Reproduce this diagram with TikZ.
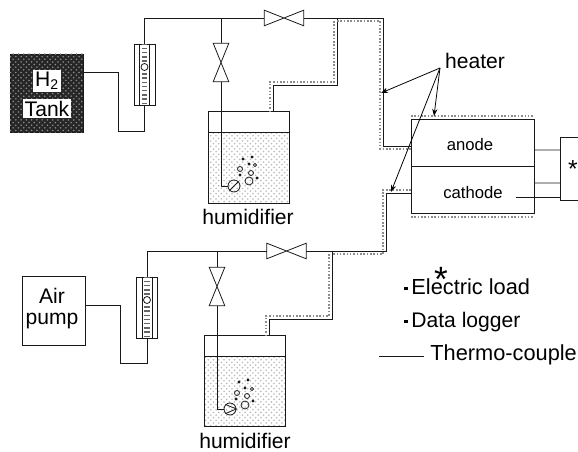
\documentclass[tikz,border=0pt]{standalone}
\usepackage{fontspec}
\setmainfont{Liberation Sans}
\usetikzlibrary{arrows.meta,patterns}
\tikzset{
  pipe/.style={line width=0.45pt,black!90},
  heat/.style={line width=0.9pt,black!45,densely dotted},
  box/.style={draw=black!90,line width=0.45pt,inner sep=0pt},
  lbl/.style={font=\fontsize{12}{14}\selectfont,inner sep=0pt,align=center},
  slbl/.style={font=\fontsize{9.5}{11}\selectfont,inner sep=0pt},
  biglbl/.style={font=\fontsize{20}{20}\selectfont,inner sep=0pt},
  hvalve/.style={inner sep=0pt,minimum width=0.78cm,minimum height=0.30cm},
  vvalve/.style={inner sep=0pt,minimum width=0.30cm,minimum height=0.76cm},
  meter/.style={box,minimum width=0.42cm,minimum height=1.22cm},
  water/.style={pattern=crosshatch dots,pattern color=black!28},
  arr/.style={-{Stealth[length=4pt,width=3pt]},line width=0.45pt},
}
\newcommand{\legdot}{\raisebox{2.5pt}{\rule{2pt}{2pt}}\hspace{2pt}}
\begin{document}
\begin{tikzpicture}[x=0.02cm,y=-0.02cm]
\useasboundingbox (0,0) rectangle (578,452);
% H2 line
\node[box,minimum width=1.46cm,minimum height=1.56cm,fill=black!85] (tank) at (46.5,93) {};
\fill[pattern=crosshatch dots,pattern color=black!45] (tank.north west) rectangle (tank.south east);
\node[lbl,fill=white,inner sep=1pt] (htwo) at (47,81) {H\textsubscript{2}};
\node[lbl,fill=white,inner sep=1pt] (tanklbl) at (47,109) {Tank};
\node[meter] (meterA) at (144.5,74.5) {};
\node[hvalve] (valveA) at (284,18) {};
\node[vvalve] (valveB) at (221,62.5) {};
% upper humidifier
\fill[water] (208,132) rectangle (289,203);
\node[box,minimum width=1.62cm,minimum height=1.84cm] (humA) at (248.5,157) {};
\draw[pipe] (208,132) -- (289,132);
\node[lbl] (humAlbl) at (248,217) {humidifier};
\node[draw=black!90,line width=0.45pt,circle,minimum size=0.24cm,inner sep=0pt] (pumpA) at (234,186) {};
\draw[pipe] (pumpA.north east) -- (pumpA.south west);
\foreach \x/\y in {243/159,252/157,249/164,240/175,257/178}
  \fill[black!90] (\x,\y) circle (1.6);
\foreach \x/\y/\r in {240/169/2.5,251/173/2.5,255/165/1.6,249/181/4}
  \draw[pipe] (\x,\y) circle (\r);
% cell
\node[box,minimum width=2.46cm,minimum height=0.94cm] (anode) at (472.5,142.5) {};
\node[box,minimum width=2.46cm,minimum height=0.94cm] (cathode) at (472.5,189.5) {};
\node[slbl] (anodelbl) at (470,145) {anode};
\node[slbl] (cathodelbl) at (473,193) {cathode};
\node[minimum width=0.34cm,minimum height=1.24cm,inner sep=0pt] (load) at (569.5,169) {};
\node[lbl,font=\fontsize{14}{14}\selectfont] (loadstar) at (573,169) {*};
\draw[pipe] (load.north east) -- (load.north west) -- (load.south west) -- (load.south east);
\draw[heat] (411,116) -- (533,116);
\draw[heat] (411,217) -- (533,217);
% air line
\node[box,minimum width=1.26cm,minimum height=1.38cm] (air) at (53.5,310.5) {};
\node[lbl] (airlbl) at (52,296) {Air};
\node[lbl] (pumplbl) at (52,321) {pump};
\node[meter] (meterB) at (147,307.5) {};
\node[hvalve] (valveC) at (286.5,251) {};
\node[vvalve] (valveD) at (217,286.5) {};
% lower humidifier
\fill[water] (204,356) rectangle (285,426);
\node[box,minimum width=1.62cm,minimum height=1.82cm] (humB) at (244.5,380.5) {};
\draw[pipe] (204,356) -- (285,356);
\node[lbl] (humBlbl) at (245,441) {humidifier};
\node[draw=black!90,line width=0.45pt,circle,minimum size=0.24cm,inner sep=0pt] (pumpB) at (230,409) {};
\draw[pipe] (pumpB.north west) -- (pumpB.east) -- (pumpB.south west);
\foreach \x/\y in {239/382,248/380,245/388,236/399,253/401}
  \fill[black!90] (\x,\y) circle (1.6);
\foreach \x/\y/\r in {237/393/2.5,247/396/2.5,252/389/1.6,245/405/4}
  \draw[pipe] (\x,\y) circle (\r);
% valves
\foreach \v in {valveA,valveC}
  \draw[pipe] (\v.north west) -- (\v.south east) -- (\v.north east) -- (\v.south west) -- cycle;
\foreach \v in {valveB,valveD}
  \draw[pipe] (\v.north west) -- (\v.south east) -- (\v.south west) -- (\v.north east) -- cycle;
% flow meters
\foreach \m in {meterA,meterB} {
  \draw[pipe] ([xshift=0.12cm]\m.north west) -- ([xshift=0.12cm]\m.south west);
  \draw[pipe] ([xshift=-0.12cm]\m.north east) -- ([xshift=-0.12cm]\m.south east);
  \draw[line width=3pt,dash pattern=on 0.8pt off 1.6pt,black!60] (\m.north) -- (\m.south);
  \node[draw=black!90,fill=white,line width=0.45pt,circle,minimum size=0.14cm,inner sep=0pt] at ([yshift=0.15cm]\m.center) {};
}
% gas pipes
\coordinate (teeA) at (valveB.north |- valveA);
\coordinate (teeB) at (337,18);
\coordinate (teeC) at (valveD.north |- valveC);
\coordinate (teeD) at (332,251);
\draw[pipe] (tank.east |- 0,72) -| (118,131) -| (meterA.south);
\draw[pipe] (meterA.north) |- (valveA.west);
\draw[pipe] (teeA) -- (valveB.north);
\draw[pipe] (valveB.south) |- (pumpA.west);
\draw[pipe] (valveA.east) -| (383,146) -- (anode.west |- 0,146);
\draw[pipe] (teeB) |- (273,85) -- (273,111);
\draw[pipe] (air.east |- 0,305) -| (120,363) -| (meterB.south);
\draw[pipe] (meterB.north) |- (valveC.west);
\draw[pipe] (teeC) -- (valveD.north);
\draw[pipe] (valveD.south) |- (pumpB.west);
\draw[pipe] (valveC.east) -| (386,193) -- (cathode.west |- 0,193);
\draw[pipe] (teeD) |- (269,319) -- (269,335);
% heater tape
\draw[heat] (334,21) |- (270,82) -- (270,111);
\draw[heat] (337,21) -- (380,21) |- (411,149);
\draw[heat] (411,190) -| (383,254) -- (332,254);
\draw[heat] (329,254) |- (266,316) -- (266,335);
% heater callout
\node[lbl] (heater) at (475,61) {heater};
\coordinate (callout) at (440,68);
\coordinate (heatA) at (381,93);
\coordinate (heatB) at (434,116);
\coordinate (heatC) at (391,192);
\foreach \t in {heatA,heatB,heatC}
  \draw[arr] (callout) -- (\t);
% thermo-couple to load
\coordinate (tcend) at (516,197);
\draw[pipe] ([yshift=-0.15cm]anode.east) -- (load.west |- 0,150);
\draw[pipe] ([yshift=0.13cm]cathode.east) -- (load.west |- 0,183);
\draw[pipe] (tcend) -- (load.west |- tcend);
% legend
\node[biglbl] (star) at (441,279) {*};
\node[lbl,anchor=west,font=\fontsize{12.4}{14}\selectfont] (loadlbl) at (404,287) {\legdot Electric load};
\node[lbl,anchor=west] (loggerlbl) at (404,322) {\legdot Data logger};
\node[lbl,anchor=west,font=\fontsize{12.4}{14}\selectfont] (tclbl) at (430,355) {Thermo-couple};
\coordinate (tcleg) at (379,356);
\draw[pipe] (tcleg) -- ([xshift=-0.12cm]tclbl.west |- tcleg);
\end{tikzpicture}
\end{document}
